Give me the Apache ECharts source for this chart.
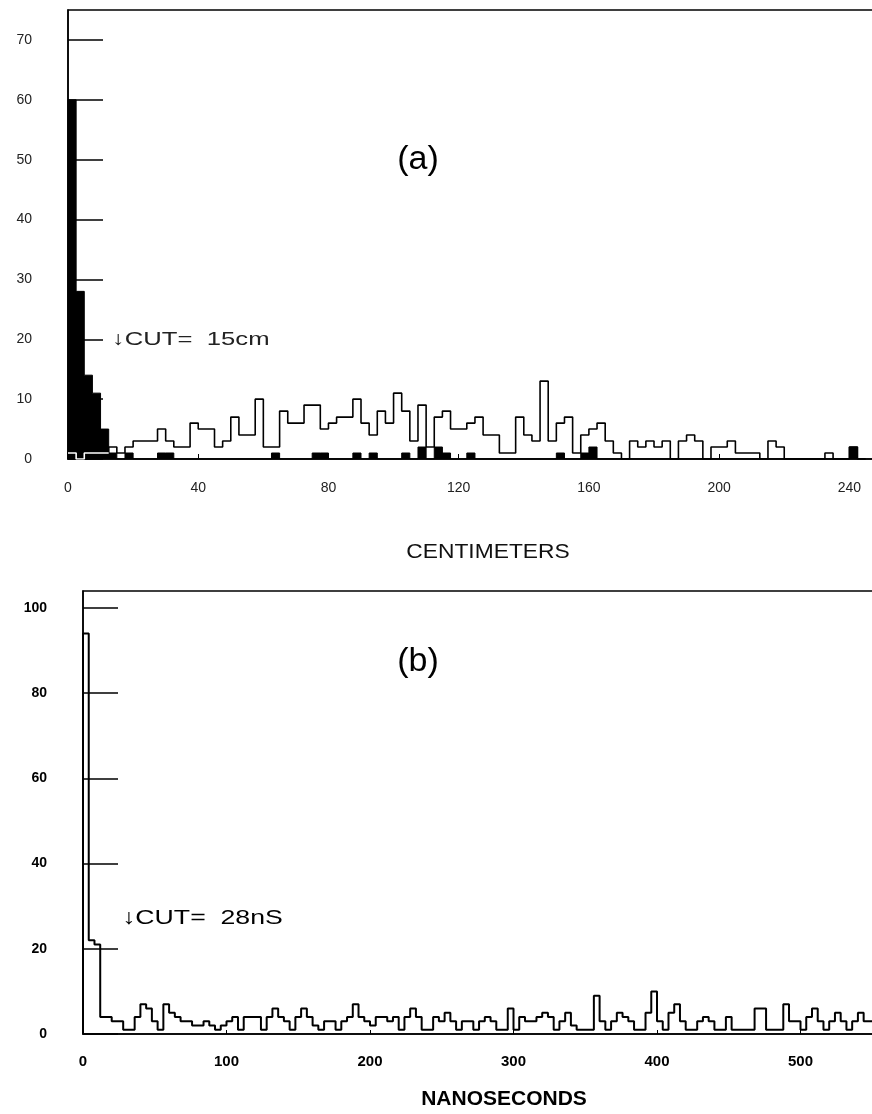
<!DOCTYPE html>
<html>
<head>
<meta charset="utf-8">
<script src="https://cdn.jsdelivr.net/npm/echarts@6/dist/echarts.min.js"></script>
<style>
html,body{margin:0;padding:0;background:#fff;}
#c{width:872px;height:1114px;}
</style>
</head>
<body>
<div id="c"></div>
<script>
// ---- Panel (a): track distance histogram, 2.5 cm bins ----
const binWidthA = 2.5;
const openA = [1,0,1,1,1, 2,1,2,3,3, 3,5,3,2,2, 6,5,5,2,3, 7,4,4,10,2, 2,8,6,6,9,
  9,5,6,7,7, 10,6,4,8,6, 11,8,3,9,2, 7,8,5,5,6, 7,4,4,1,1, 7,4,3,13,3,
  6,7,1,4,5, 6,3,1,0,3, 2,3,2,3,0, 3,4,3,0,2, 2,3,1,1,1, 0,3,2,0,0,
  0,0,0,1,0, 0,2,0];
const blackA = [60,28,14,11,5, 1,0,1,0,0, 0,1,1,0,0, 0,0,0,0,0, 0,0,0,0,0, 1,0,0,0,0,
  1,1,0,0,0, 1,0,1,0,0, 0,1,0,2,0, 2,1,0,0,1, 0,0,0,0,0, 0,0,0,0,0,
  1,0,0,1,2, 0,0,0,0,0, 0,0,0,0,0, 0,0,0,0,0, 0,0,0,0,0, 0,0,0,0,0,
  0,0,0,0,0, 0,2,0];
const overlayBinsA = 5; // open-histogram bins lying inside the filled bars

// ---- Panel (b): time histogram, 4 ns bins ----
const binWidthB = 4;
const countsB = [94,22,21,4,4, 3,3,1,1,4, 7,6,3,1,7, 5,4,3,3,2, 2,3,2,1,2, 3,4,1,4,4,
  4,1,4,6,4, 3,1,4,6,4, 2,1,3,3,1, 3,4,7,4,3, 2,4,4,3,4, 1,4,6,4,1,
  1,4,3,5,3, 1,3,3,1,3, 4,3,1,1,6, 1,4,3,3,4, 5,4,1,3,5, 2,1,1,1,9,
  3,1,3,5,4, 3,1,1,5,10, 3,1,5,7,3, 1,1,3,4,3, 1,1,4,1,1, 1,1,6,6,1,
  1,1,7,3,3, 1,4,6,3,1, 3,5,3,1,3, 5,3,3];

const labelA = 'CENTIMETERS';
const labelB = 'NANOSECONDS';
const cutA = '\u2193CUT=  15cm';
const cutB = '\u2193CUT=  28nS';

function stepData(vals, w) {
  const d = [[0, 0]];
  vals.forEach((v, k) => d.push([k * w, v]));
  d.push([vals.length * w, vals[vals.length - 1]]);
  d.push([vals.length * w, 0]);
  return d;
}
function partialStep(vals, w, n) {
  const d = [];
  for (let k = 0; k < n; k++) d.push([k * w, vals[k]]);
  d.push([n * w, vals[n - 1]]);
  return d;
}

const FONT = "'Liberation Sans', Arial, sans-serif";
const chart = echarts.init(document.getElementById('c'), null, {renderer: 'canvas'});

const lineAx = {show: true, lineStyle: {color: '#000', width: 1.5}};
chart.setOption({
  backgroundColor: '#fff',
  animation: false,
  grid: [
    {left: 68, top: 10, width: 810, height: 449, show: true, borderColor: '#000', borderWidth: 1.5,
     backgroundColor: 'transparent', containLabel: false, outerBoundsMode: 'none'},
    {left: 83, top: 591, width: 795, height: 443, show: true, borderColor: '#000', borderWidth: 1.5,
     backgroundColor: 'transparent', containLabel: false, outerBoundsMode: 'none'}
  ],
  xAxis: [
    {type: 'value', gridIndex: 0, min: 0, max: 248.8, interval: 40,
     axisLine: lineAx, splitLine: {show: false},
     axisTick: {show: true, inside: true, length: 5, lineStyle: {color: '#000', width: 1}},
     axisLabel: {margin: 22, color: '#222', fontFamily: FONT, fontSize: 14, showMaxLabel: false}},
    {type: 'value', gridIndex: 1, min: 0, max: 554, interval: 100,
     axisLine: lineAx, splitLine: {show: false},
     axisTick: {show: true, inside: true, length: 4, lineStyle: {color: '#000', width: 1}},
     axisLabel: {margin: 20, color: '#000', fontFamily: FONT, fontSize: 15, fontWeight: 'bold', showMaxLabel: false}}
  ],
  yAxis: [
    {type: 'value', gridIndex: 0, min: 0, max: 75, interval: 10,
     axisLine: lineAx, splitLine: {show: false},
     axisTick: {show: true, inside: true, length: 35, lineStyle: {color: '#000', width: 1.5}},
     axisLabel: {margin: 36, color: '#222', fontFamily: FONT, fontSize: 14, showMaxLabel: false}},
    {type: 'value', gridIndex: 1, min: 0, max: 104, interval: 20,
     axisLine: lineAx, splitLine: {show: false},
     axisTick: {show: true, inside: true, length: 35, lineStyle: {color: '#000', width: 1.5}},
     axisLabel: {margin: 36, color: '#000', fontFamily: FONT, fontSize: 14, fontWeight: 'bold', showMaxLabel: false}}
  ],
  series: [
    {type: 'line', xAxisIndex: 0, yAxisIndex: 0, step: 'end', symbol: 'none', z: 2,
     data: stepData(blackA, binWidthA),
     lineStyle: {color: '#000', width: 1}, areaStyle: {color: '#000', opacity: 1}},
    {type: 'line', xAxisIndex: 0, yAxisIndex: 0, step: 'end', symbol: 'none', z: 3,
     data: stepData(openA, binWidthA),
     lineStyle: {color: '#000', width: 1.6}},
    {type: 'line', xAxisIndex: 0, yAxisIndex: 0, step: 'end', symbol: 'none', z: 4,
     data: partialStep(openA, binWidthA, overlayBinsA),
     lineStyle: {color: '#fff', width: 1.6}},
    {type: 'line', xAxisIndex: 1, yAxisIndex: 1, step: 'end', symbol: 'none', z: 3,
     data: stepData(countsB, binWidthB),
     lineStyle: {color: '#000', width: 2}}
  ],
  graphic: [
    {type: 'text', x: 418, y: 160, z: 10, style: {text: '(a)', font: "34px " + FONT, fill: '#000', align: 'center', verticalAlign: 'middle'}},
    {type: 'text', x: 418, y: 662, z: 10, style: {text: '(b)', font: "34px " + FONT, fill: '#000', align: 'center', verticalAlign: 'middle'}},
    {type: 'text', x: 112, y: 340, z: 10, scaleX: 1.35, style: {text: cutA, font: "19px " + FONT, fill: '#222', align: 'left', verticalAlign: 'middle'}},
    {type: 'text', x: 122, y: 918, z: 10, scaleX: 1.27, style: {text: cutB, font: "21px " + FONT, fill: '#000', align: 'left', verticalAlign: 'middle'}},
    {type: 'text', x: 488, y: 552, z: 10, scaleX: 1.14, style: {text: labelA, font: "20px " + FONT, fill: '#111', align: 'center', verticalAlign: 'middle'}},
    {type: 'text', x: 504, y: 1099, z: 10, style: {text: labelB, font: "bold 21px " + FONT, fill: '#000', align: 'center', verticalAlign: 'middle'}}
  ]
});
</script>
</body>
</html>
